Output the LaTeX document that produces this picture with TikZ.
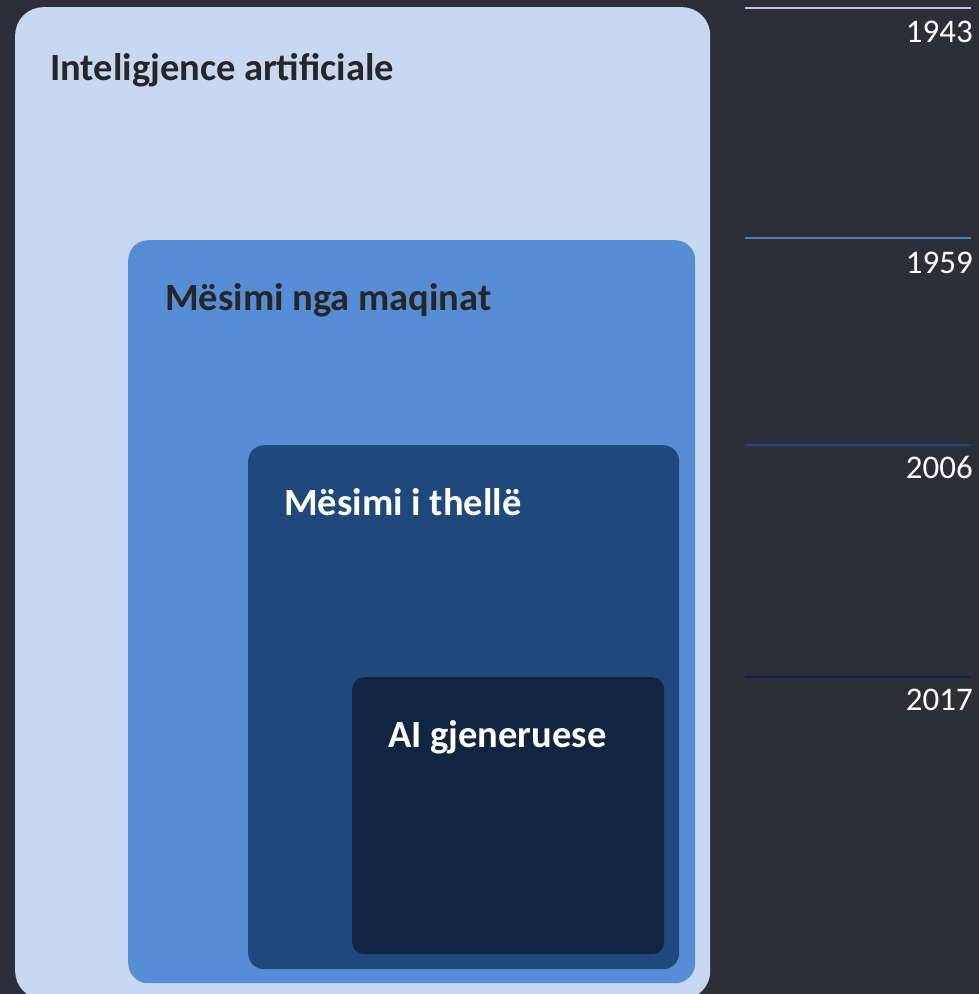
\documentclass[tikz,border=0pt]{standalone}
\usepackage{fontspec}
\setmainfont{Carlito}
\definecolor{bgc}{HTML}{2E2E38}
\definecolor{cA}{HTML}{C6D9F1}
\definecolor{cB}{HTML}{558ED5}
\definecolor{cC}{HTML}{1F497D}
\definecolor{cD}{HTML}{10253F}
\definecolor{lA}{HTML}{B4C7E7}
\definecolor{lB}{HTML}{4A7FC1}
\definecolor{lC}{HTML}{1F497D}
\definecolor{lD}{HTML}{10253F}
\definecolor{tdark}{HTML}{262626}
\begin{document}
\begin{tikzpicture}[x=1pt,y=-1pt,
  box/.style={anchor=north west,inner sep=0pt,draw=none},
  ttl/.style={anchor=base west,inner sep=0pt,font=\fontsize{38.5}{44}\selectfont\bfseries},
  yr/.style={anchor=base east,inner sep=0pt,text=white,font=\fontsize{33}{38}\selectfont},
  tl/.style={line width=2pt}]
\useasboundingbox (0,0) rectangle (979,994);
\fill[bgc] (0,0) rectangle (979,994);
\node[box,fill=cA,rounded corners=28pt,minimum width=695pt,minimum height=992pt] (bA) at (15,7) {};
\node[box,fill=cB,rounded corners=20pt,minimum width=567pt,minimum height=743pt] (bB) at (128,240) {};
\node[box,fill=cC,rounded corners=16pt,minimum width=431pt,minimum height=524pt] (bC) at (248,445) {};
\node[box,fill=cD,rounded corners=12pt,minimum width=312pt,minimum height=277pt] (bD) at (352,677) {};
\node[ttl,text=tdark] (tA) at (50,80) {Inteligjence artificiale};
\node[ttl,text=tdark] (tB) at (165,310) {Mësimi nga maqinat};
\node[ttl,text=white] (tC) at (284,515) {Mësimi i thellë};
\node[ttl,text=white] (tD) at (388,747) {AI gjeneruese};
\coordinate (a1) at (745,8); \coordinate (a2) at (971,8);
\coordinate (b1) at (745,238); \coordinate (b2) at (971,238);
\coordinate (c1) at (745,445); \coordinate (c2) at (971,445);
\coordinate (d1) at (745,677); \coordinate (d2) at (971,677);
\draw[tl,lA] (a1) -- (a2);
\draw[tl,lB] (b1) -- (b2);
\draw[tl,lC] (c1) -- (c2);
\draw[tl,lD] (d1) -- (d2);
\node[yr] (y1) at (973,42) {1943};
\node[yr] (y2) at (973,273) {1959};
\node[yr] (y3) at (973,478) {2006};
\node[yr] (y4) at (973,710) {2017};
\end{tikzpicture}
\end{document}
